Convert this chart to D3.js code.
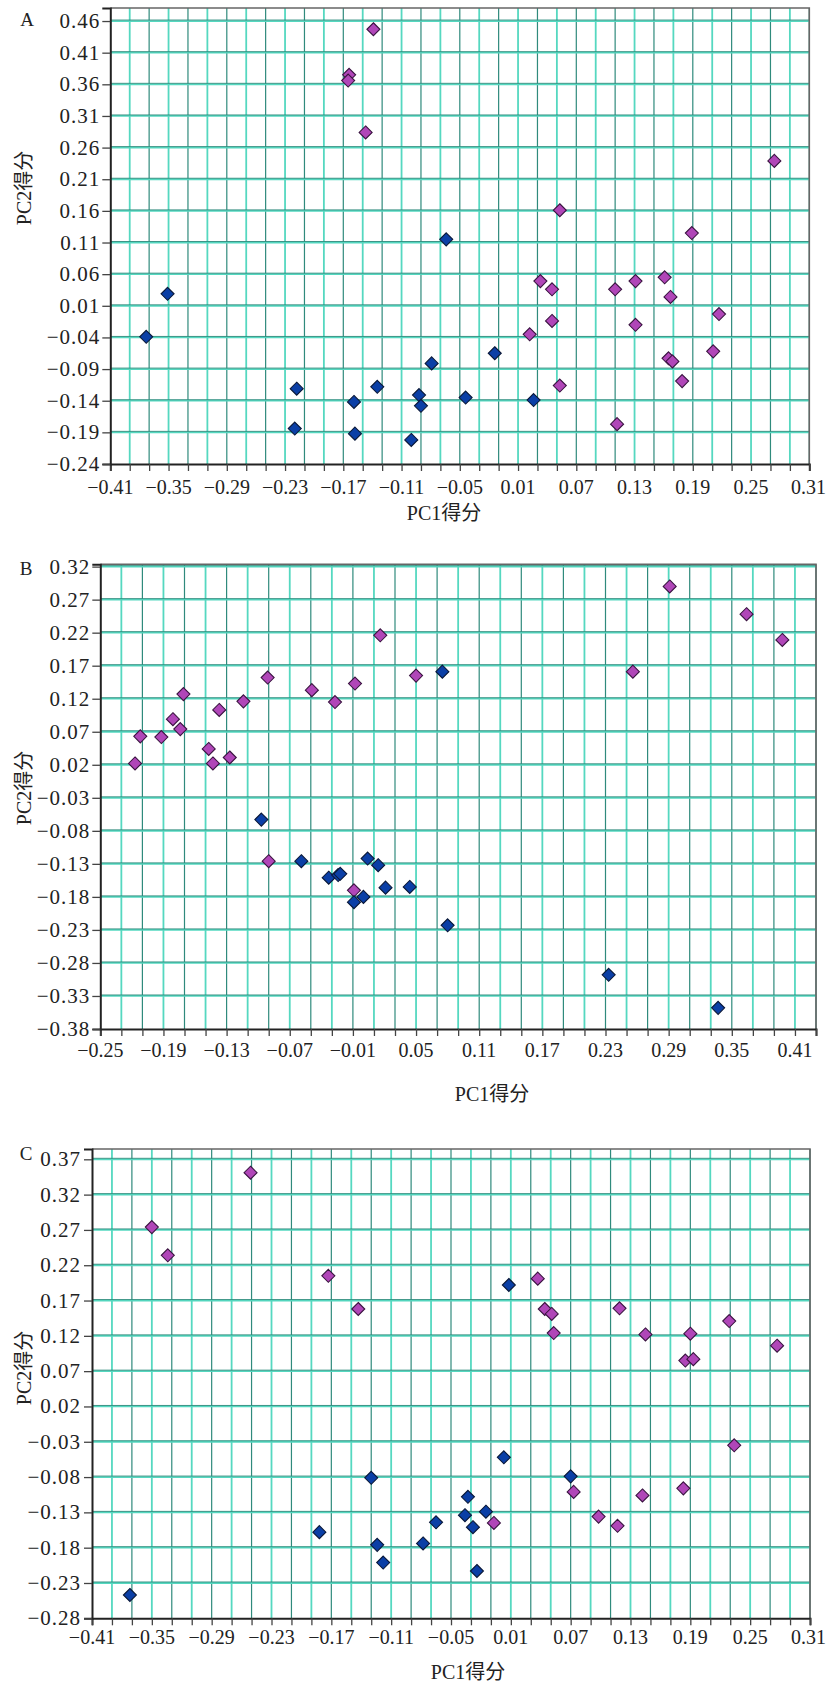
<!DOCTYPE html>
<html><head><meta charset="utf-8">
<script src="https://cdnjs.cloudflare.com/ajax/libs/d3/7.8.5/d3.min.js"></script>
<style>body{margin:0;background:#fff}</style>
</head><body>
<svg id="chart" width="828" height="1683"></svg>
<script>
// ---------- DATA ----------
// Panel A
const aMagentaX = [-0.139,-0.164,-0.165,-0.147,0.053,0.189,0.274,0.033,0.045,0.110,0.131,0.161,0.167,0.217,0.045,0.131,0.022,0.211,0.165,0.169,0.179,0.053,0.112];
const aMagentaY = [0.447,0.375,0.366,0.284,0.161,0.125,0.239,0.049,0.036,0.036,0.049,0.055,0.024,-0.003,-0.014,-0.020,-0.035,-0.062,-0.073,-0.078,-0.109,-0.116,-0.177];
const aBlueX = [-0.064,-0.351,-0.373,-0.218,-0.220,-0.159,-0.158,-0.135,-0.100,-0.092,-0.090,-0.079,-0.014,-0.044,0.026];
const aBlueY = [0.115,0.029,-0.039,-0.121,-0.184,-0.142,-0.192,-0.118,-0.202,-0.131,-0.148,-0.081,-0.065,-0.135,-0.139];
// Panel B
const bMagentaX = [-0.217,-0.212,-0.192,-0.181,-0.174,-0.171,-0.147,-0.143,-0.137,-0.127,-0.114,-0.091,-0.049,-0.027,-0.008,0.016,0.050,0.256,0.291,0.364,0.398,-0.090,-0.009];
const bMagentaY = [0.022,0.063,0.062,0.089,0.074,0.127,0.044,0.022,0.103,0.031,0.116,0.152,0.133,0.115,0.143,0.216,0.155,0.161,0.290,0.248,0.209,-0.126,-0.170];
const bBlueX = [0.075,-0.097,-0.059,-0.033,-0.024,-0.022,0.004,0.014,0.000,-0.009,0.021,0.044,0.080,0.233,0.337];
const bBlueY = [0.161,-0.063,-0.126,-0.151,-0.147,-0.145,-0.122,-0.132,-0.180,-0.188,-0.166,-0.165,-0.223,-0.298,-0.348];
// Panel C
const cMagentaX = [-0.350,-0.334,-0.251,-0.173,-0.143,0.037,0.044,0.051,0.053,0.119,0.145,0.190,0.229,0.277,0.185,0.193,0.234,0.073,-0.007,0.098,0.117,0.142,0.183];
const cMagentaY = [0.274,0.234,0.351,0.205,0.158,0.201,0.158,0.151,0.124,0.159,0.122,0.123,0.141,0.106,0.085,0.087,-0.035,-0.101,-0.145,-0.136,-0.149,-0.106,-0.096];
const cBlueX = [0.008,-0.372,-0.182,-0.130,-0.124,-0.118,-0.078,0.003,0.070,-0.033,-0.036,-0.015,-0.028,-0.065,-0.024];
const cBlueY = [0.192,-0.247,-0.158,-0.081,-0.176,-0.201,-0.174,-0.052,-0.079,-0.108,-0.134,-0.129,-0.151,-0.144,-0.213];

// Tick labels
const xTicksA = [-0.41,-0.35,-0.29,-0.23,-0.17,-0.11,-0.05,0.01,0.07,0.13,0.19,0.25,0.31];
const yTicksA = [-0.24,-0.19,-0.14,-0.09,-0.04,0.01,0.06,0.11,0.16,0.21,0.26,0.31,0.36,0.41,0.46];
const xTicksB = [-0.25,-0.19,-0.13,-0.07,-0.01,0.05,0.11,0.17,0.23,0.29,0.35,0.41];
const yTicksB = [-0.38,-0.33,-0.28,-0.23,-0.18,-0.13,-0.08,-0.03,0.02,0.07,0.12,0.17,0.22,0.27,0.32];
const xTicksC = [-0.41,-0.35,-0.29,-0.23,-0.17,-0.11,-0.05,0.01,0.07,0.13,0.19,0.25,0.31];
const yTicksC = [-0.28,-0.23,-0.18,-0.13,-0.08,-0.03,0.02,0.07,0.12,0.17,0.22,0.27,0.32,0.37];

const panelLetters = ["A","B","C"];
const xTitle = "PC1得分";
const yTitle = "PC2得分";

// ---------- LAYOUT ----------
const panels = [
  {letter:panelLetters[0], xDomain:[-0.41,0.31], yDomain:[-0.24,0.4806], left:110.3, right:809.3, top:8, bottom:464,
   xTicks:xTicksA, yTicks:yTicksA, mx:aMagentaX, my:aMagentaY, bx:aBlueX, by:aBlueY,
   letterPos:[27,19], xTitlePos:[444,513], yTitlePos:[24,188], xLabelDy:23, yLabelGap:10},
  {letter:panelLetters[1], xDomain:[-0.25,0.43], yDomain:[-0.38,0.3235], left:100.3, right:816, top:564.3, bottom:1029,
   xTicks:xTicksB, yTicks:yTicksB, mx:bMagentaX, my:bMagentaY, bx:bBlueX, by:bBlueY,
   letterPos:[26,568], xTitlePos:[492,1094], yTitlePos:[24,788], xLabelDy:21, yLabelGap:10},
  {letter:panelLetters[2], xDomain:[-0.41,0.31], yDomain:[-0.28,0.3846], left:92, right:810, top:1149, bottom:1618.3,
   xTicks:xTicksC, yTicks:yTicksC, mx:cMagentaX, my:cMagentaY, bx:cBlueX, by:cBlueY,
   letterPos:[26,1153], xTitlePos:[468,1672], yTitlePos:[24,1368], xLabelDy:19, yLabelGap:11}
];

const svg = d3.select("#chart");
const fmt = d3.format(".2f");
const numFont = "'Liberation Serif','DejaVu Serif',serif";
const titleFont = "'Liberation Serif','Noto Sans CJK SC',serif";
const gridLight = "#55d8c0", gridDark = "#2f8a7c";
const R = 6.5;
const diamond = `M0,${-R}L${R},0L0,${R}L${-R},0Z`;
const pageW = 828;

panels.forEach(p => {
  const x = d3.scaleLinear().domain(p.xDomain).range([p.left, p.right]);
  const y = d3.scaleLinear().domain(p.yDomain).range([p.bottom, p.top]);
  const g = svg.append("g");

  // minor x ticks every 0.02
  const nMinor = Math.round((p.xDomain[1]-p.xDomain[0])/0.02);
  const minor = d3.range(nMinor+1).map(i => +(p.xDomain[0] + i*0.02).toFixed(2));

  // vertical grid
  g.selectAll(".vg").data(minor.slice(1)).join("line")
    .attr("x1", d => x(d)).attr("x2", d => x(d))
    .attr("y1", y(p.yDomain[1])).attr("y2", y(p.yDomain[0]))
    .attr("stroke", (d,i) => i % 2 ? gridDark : gridLight)
    .attr("stroke-width", (d,i) => i % 2 ? 1.2 : 1.8);
  // horizontal grid
  g.selectAll(".hg").data(p.yTicks.slice(1)).join("line")
    .attr("x1", x(p.xDomain[0])).attr("x2", x(p.xDomain[1]))
    .attr("y1", d => y(d)).attr("y2", d => y(d))
    .attr("stroke", gridLight).attr("stroke-width", 1.8);
  g.selectAll(".hg2").data(p.yTicks.slice(1)).join("line")
    .attr("x1", x(p.xDomain[0])).attr("x2", x(p.xDomain[1]))
    .attr("y1", d => y(d)-1).attr("y2", d => y(d)-1)
    .attr("stroke", gridDark).attr("stroke-width", 0.9);

  // border top/right
  g.append("path")
    .attr("d", `M${x(p.xDomain[0])},${y(p.yDomain[1])}H${x(p.xDomain[1])}V${y(p.yDomain[0])}`)
    .attr("fill","none").attr("stroke","#666").attr("stroke-width",1.6);

  // x axis
  const xAxis = d3.axisBottom(x).tickValues(minor).tickSize(7).tickFormat("");
  const ga = g.append("g").attr("transform", `translate(0,${y(p.yDomain[0])})`).call(xAxis);
  ga.select(".domain").attr("stroke","#222").attr("stroke-width",2);
  ga.selectAll(".tick line").attr("stroke","#444").attr("stroke-width",1.3);
  const xl = g.selectAll(".xl").data(p.xTicks).join("text")
    .attr("x", d => x(d)).attr("y", y(p.yDomain[0]) + p.xLabelDy)
    .attr("text-anchor","middle").attr("dominant-baseline","central")
    .attr("font-family", numFont).attr("font-size", 20)
    .attr("fill","#222").text(d => fmt(d));
  // keep labels inside the page
  xl.each(function(d) {
    const w = this.getComputedTextLength();
    const cx = Math.min(x(d), pageW - 2 - w/2);
    d3.select(this).attr("x", cx);
  });

  // y axis
  const yAxis = d3.axisLeft(y).tickValues(p.yTicks).tickSize(8).tickFormat("");
  const gy = g.append("g").attr("transform", `translate(${x(p.xDomain[0])},0)`).call(yAxis);
  gy.select(".domain").attr("stroke","#222").attr("stroke-width",2);
  gy.selectAll(".tick line").attr("stroke","#444").attr("stroke-width",1.3);
  g.selectAll(".yl").data(p.yTicks).join("text")
    .attr("x", x(p.xDomain[0]) - p.yLabelGap).attr("y", d => y(d))
    .attr("text-anchor","end").attr("dominant-baseline","central")
    .attr("font-family", numFont).attr("font-size", 21).attr("letter-spacing", 1)
    .attr("fill","#222").text(d => fmt(d));

  // points
  const mag = p.mx.map((v,i) => ({x:v, y:p.my[i]}));
  const blu = p.bx.map((v,i) => ({x:v, y:p.by[i]}));
  g.selectAll(".pm").data(mag).join("path")
    .attr("d", diamond).attr("transform", d => `translate(${x(d.x)},${y(d.y)})`)
    .attr("fill","#b046b8").attr("stroke","#3a1440").attr("stroke-width",1.1);
  g.selectAll(".pb").data(blu).join("path")
    .attr("d", diamond).attr("transform", d => `translate(${x(d.x)},${y(d.y)})`)
    .attr("fill","#0b3fa6").attr("stroke","#0a1838").attr("stroke-width",1.1);

  // titles
  g.append("text").attr("x", p.letterPos[0]).attr("y", p.letterPos[1])
    .attr("text-anchor","middle").attr("dominant-baseline","central")
    .attr("font-family", numFont).attr("font-size", 19).attr("fill","#222").text(p.letter);
  g.append("text").attr("x", p.xTitlePos[0]).attr("y", p.xTitlePos[1])
    .attr("text-anchor","middle").attr("dominant-baseline","central")
    .attr("font-family", titleFont).attr("font-size", 20).attr("fill","#222").text(xTitle);
  g.append("text")
    .attr("transform", `translate(${p.yTitlePos[0]},${p.yTitlePos[1]}) rotate(-90)`)
    .attr("text-anchor","middle").attr("dominant-baseline","central")
    .attr("font-family", titleFont).attr("font-size", 20).attr("fill","#222").text(yTitle);
});
</script>
</body></html>
